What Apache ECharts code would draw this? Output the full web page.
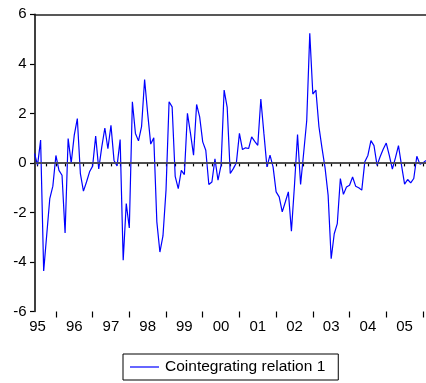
<!DOCTYPE html>
<html>
<head>
<meta charset="utf-8">
<script src="https://cdn.jsdelivr.net/npm/echarts@6/dist/echarts.min.js"></script>
<style>
  html, body { margin: 0; padding: 0; background: #fff; }
  #chart { width: 426px; height: 383px; }
</style>
</head>
<body>
<div id="chart"></div>
<script>
// Monthly observations, 1995M06 .. 2006M02
const startYear = 1995;
const startMonth = 6;
const relation1 = [
  0.38, -0.09, 0.92, -4.36, -2.9, -1.44, -0.94,            // 1995 Jun-Dec
  0.30, -0.30, -0.50, -2.83, 0.98, 0.0, 1.12, 1.79, -0.43, -1.14, -0.77, -0.36, // 1996
  -0.13, 1.08, -0.24, 0.65, 1.41, 0.57, 1.52, 0.10, -0.12, 0.94, -3.93, -1.64,  // 1997
  -2.63, 2.47, 1.19, 0.89, 1.46, 3.37, 2.0, 0.76, 1.01, -2.38, -3.6, -2.95,     // 1998
  -1.1, 2.47, 2.26, -0.54, -1.04, -0.3, -0.47, 2.0, 1.19, 0.31, 2.36, 1.86,     // 1999
  0.85, 0.51, -0.87, -0.77, 0.16, -0.70, -0.09, 2.94, 2.24, -0.43, -0.23, 0.0,  // 2000
  1.19, 0.54, 0.61, 0.58, 1.05, 0.87, 0.71, 2.58, 1.19, -0.16, 0.31, -0.16,     // 2001
  -1.17, -1.37, -1.98, -1.58, -1.17, -2.76, -0.9, 1.15, -0.87, 0.4, 1.7, 5.23,  // 2002
  2.78, 2.94, 1.46, 0.6, -0.2, -1.3, -3.87, -2.86, -2.45, -0.63, -1.27, -0.97,  // 2003
  -0.9, -0.57, -0.94, -1.0, -1.1, 0.05, 0.3, 0.9, 0.7, -0.1, 0.25, 0.55,        // 2004
  0.8, 0.3, -0.25, 0.2, 0.7, -0.1, -0.86, -0.67, -0.81, -0.63, 0.27, -0.05,     // 2005
  0.0, 0.1                                                  // 2006 Jan-Feb
];
const yTicks = [-6, -4, -2, 0, 2, 4, 6];
const seriesName = 'Cointegrating relation 1';

// Category labels "YYYY-MM" for each observation
const months = relation1.map((_, i) => {
  const m0 = startMonth - 1 + i;
  const y = startYear + Math.floor(m0 / 12);
  const m = (m0 % 12) + 1;
  return y + '-' + (m < 10 ? '0' + m : m);
});
const monthOf = v => parseInt(v.slice(5), 10);

const font = 'Liberation Sans, Arial, sans-serif';
const chart = echarts.init(document.getElementById('chart'), null, { renderer: 'canvas' });

chart.setOption({
  animation: false,
  grid: { left: 34.5, right: 0, top: 14.3, bottom: 71.5 },
  xAxis: [
    { // quarterly minor ticks + year labels at mid-year
      type: 'category', data: months, boundaryGap: false, position: 'bottom',
      axisLine: { lineStyle: { color: '#000', width: 1.5 } },
      axisTick: { length: 3.5, lineStyle: { color: '#000', width: 1.2 },
                  interval: (i, v) => (monthOf(v) - 1) % 3 === 0 },
      axisLabel: { interval: (i, v) => monthOf(v) === 7,
                   formatter: v => v.slice(2, 4),
                   color: '#000', fontFamily: font, fontSize: 15, margin: 8 },
      splitLine: { show: false }
    },
    { // longer ticks at year boundaries
      type: 'category', data: months, boundaryGap: false, position: 'bottom',
      axisLine: { show: false },
      axisTick: { length: 6, lineStyle: { color: '#000', width: 1.2 },
                  interval: (i, v) => monthOf(v) === 1 },
      axisLabel: { show: false }, splitLine: { show: false }
    },
    { // frame top edge
      type: 'category', data: months, boundaryGap: false, position: 'top',
      axisLine: { lineStyle: { color: '#222', width: 1.5 } },
      axisTick: { show: false }, axisLabel: { show: false }, splitLine: { show: false }
    }
  ],
  yAxis: {
    type: 'value', min: yTicks[0], max: yTicks[yTicks.length - 1], interval: 2,
    axisLine: { show: true, lineStyle: { color: '#000', width: 1.5 } },
    axisTick: { show: true, length: 4.5, lineStyle: { color: '#000', width: 1.2 } },
    axisLabel: { color: '#000', fontFamily: font, fontSize: 15, margin: 8 },
    splitLine: { show: false }
  },
  legend: {
    show: true,
    data: [{ name: seriesName, icon: 'rect' }],
    left: 123, top: 354,
    itemWidth: 29, itemHeight: 1.2, itemGap: 10,
    padding: [5, 13, 5, 7],
    borderColor: '#000', borderWidth: 1, borderRadius: 0,
    textStyle: { color: '#000', fontFamily: font, fontSize: 15.5, padding: [0, 0, 0, 1] }
  },
  series: [{
    name: seriesName, type: 'line', data: relation1,
    symbol: 'none', smooth: false,
    lineStyle: { color: '#0000ff', width: 1.2 },
    itemStyle: { color: '#0000ff' },
    markLine: {
      silent: true, symbol: 'none', label: { show: false },
      lineStyle: { color: '#555', width: 1.5, type: 'solid' },
      data: [{ yAxis: 0 }]
    },
    z: 3
  }]
});
</script>
</body>
</html>
